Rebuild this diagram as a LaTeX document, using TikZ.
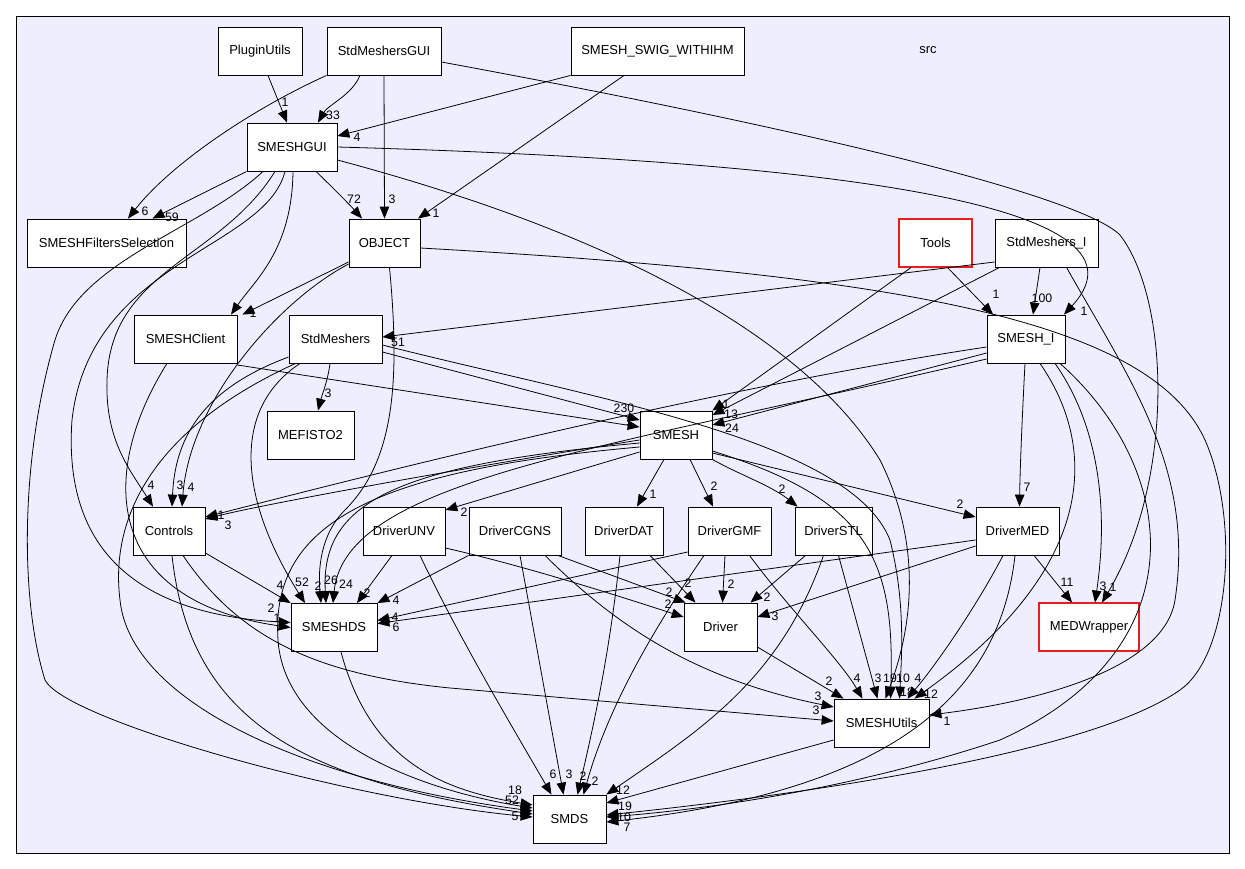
\documentclass[tikz,border=0pt]{standalone}
\usepackage{fontspec}
\setmainfont{Liberation Sans}
\usetikzlibrary{arrows.meta,calc}
\definecolor{dirbg}{RGB}{238,238,255}
\definecolor{hotred}{RGB}{232,30,30}
\newcommand{\dirfont}{\fontsize{7.4}{9}\selectfont}
\newcommand{\labfont}{\fontsize{7}{8}\selectfont}

\begin{document}
\begin{tikzpicture}[x=0.02cm,y=-0.02cm,
  dir/.style={draw=black,fill=white,minimum height=0.96cm,inner sep=0pt,line width=0.5pt,font=\dirfont},
  hot/.style={dir,draw=hotred,line width=0.6pt},
  dep/.style={-{Triangle[length=6.8pt,width=5.4pt]},line width=0.45pt},
  elab/.style={font=\labfont,inner sep=0pt}]
\useasboundingbox (0,0) rectangle (1245,869);
% the src directory frame
\draw[fill=dirbg,line width=0.5pt] (16,16) rectangle (1229,853);
\node[font=\dirfont] (srclabel) at (928,50) {src};

% directories
\node[dir,minimum width=1.68cm] (PluginUtils) at (260,51) {PluginUtils};
\node[dir,minimum width=2.28cm] (StdMeshersGUI) at (384,51) {StdMeshersGUI};
\node[dir,minimum width=3.46cm] (SWIG) at (657.5,51) {SMESH\_SWIG\_WITHIHM};
\node[dir,minimum width=1.8cm] (SMESHGUI) at (292,147) {SMESHGUI};
\node[dir,minimum width=3.18cm] (Filters) at (106.5,243) {SMESHFiltersSelection};
\node[dir,minimum width=1.42cm] (OBJECT) at (384.5,243) {OBJECT};
\node[hot,minimum width=1.46cm] (Tools) at (935.5,243) {Tools};
\node[dir,minimum width=2.06cm] (StdMeshersI) at (1046.5,243) {StdMeshers\_I};
\node[dir,minimum width=2.06cm] (SMESHClient) at (185.5,339) {SMESHClient};
\node[dir,minimum width=1.86cm] (StdMeshers) at (335.5,339) {StdMeshers};
\node[dir,minimum width=1.56cm] (SMESHI) at (1026,339) {SMESH\_I};
\node[dir,minimum width=1.74cm] (MEFISTO2) at (310.5,435) {MEFISTO2};
\node[dir,minimum width=1.44cm] (SMESH) at (676,435) {SMESH};
\node[dir,minimum width=1.44cm] (Controls) at (169,531) {Controls};
\node[dir,minimum width=1.64cm] (DriverUNV) at (404,531) {DriverUNV};
\node[dir,minimum width=1.84cm] (DriverCGNS) at (515,531) {DriverCGNS};
\node[dir,minimum width=1.56cm] (DriverDAT) at (624,531) {DriverDAT};
\node[dir,minimum width=1.66cm] (DriverGMF) at (729.5,531) {DriverGMF};
\node[dir,minimum width=1.54cm] (DriverSTL) at (833.5,531) {DriverSTL};
\node[dir,minimum width=1.66cm] (DriverMED) at (1017.5,531) {DriverMED};
\node[dir,minimum width=1.72cm] (SMESHDS) at (334,627.5) {SMESHDS};
\node[dir,minimum width=1.46cm] (Driver) at (720.5,627) {Driver};
\node[hot,minimum width=2cm] (MEDWrapper) at (1089,627) {MEDWrapper};
\node[dir,minimum width=1.9cm] (SMESHUtils) at (881.5,723) {SMESHUtils};
\node[dir,minimum width=1.46cm] (SMDS) at (569.5,819) {SMDS};

% top row
\draw[dep] ($(PluginUtils.south)+(8,0)$) -- ($(SMESHGUI.north)+(-5,0)$);
\draw[dep] ($(StdMeshersGUI.south)+(-24,0)$) .. controls (352,95) and (328,105) .. ($(SMESHGUI.north)+(26,0)$);
\draw[dep] (SWIG.south west) -- ($(SMESHGUI.east)+(0,-11)$);
\draw[dep] (StdMeshersGUI.south west) .. controls (250,110) and (170,165) .. ($(Filters.north)+(21.5,0)$);
\draw[dep] (StdMeshersGUI.south) -- (OBJECT.north);
\draw[dep] ($(SWIG.south)+(-33.5,0)$) -- ($(OBJECT.north)+(33.5,0)$);
\draw[dep] ($(StdMeshersGUI.east)+(0,11)$) .. controls (800,128) and (1080,195) .. (1120,235) .. controls (1170,300) and (1175,480) .. ($(MEDWrapper.north)+(13,0)$);

% SMESHGUI
\draw[dep] (SMESHGUI.south west) -- ($(Filters.north)+(46,0)$);
\draw[dep] ($(SMESHGUI.south)+(24,0)$) .. controls (330,185) and (350,205) .. ($(OBJECT.north)+(-22.5,0)$);
\draw[dep] (SMESHGUI.east) .. controls (800,160) and (1170,200) .. ($(SMESHI.north)+(38,0)$);
\draw[dep] ($(SMESHGUI.east)+(0,13)$) .. controls (600,230) and (800,330) .. (880,460) .. controls (920,540) and (915,620) .. ($(SMESHUtils.north)+(4,0)$);
\draw[dep] ($(SMESHGUI.south)+(1,0)$) .. controls (292,250) and (255,280) .. ($(SMESHClient.north)+(45.5,0)$);
\draw[dep] ($(SMESHGUI.south)+(-17,0)$) .. controls (220,260) and (110,270) .. (107,380) .. controls (105,440) and (130,470) .. ($(Controls.north)+(-16,0)$);
\draw[dep] ($(SMESHGUI.south)+(-7,0)$) .. controls (265,250) and (90,260) .. (72,420) .. controls (62,560) and (150,615) .. ($(SMESHDS.west)+(0,-5)$);
\draw[dep] ($(SMESHGUI.south)+(-29,0)$) .. controls (200,230) and (80,260) .. (55,340) .. controls (20,460) and (20,600) .. (45,680) .. controls (65,720) and (350,800) .. ($(SMDS.west)+(0,-2)$);

% OBJECT
\draw[dep] ($(OBJECT.west)+(0,19)$) -- ($(SMESHClient.north)+(57,0)$);
\draw[dep] ($(OBJECT.west)+(0,21)$) .. controls (280,300) and (190,400) .. ($(Controls.north)+(13,0)$);
\draw[dep] ($(OBJECT.south)+(5,0)$) .. controls (400,380) and (395,460) .. (345,510) .. controls (320,535) and (318,570) .. ($(SMESHDS.north)+(-13,0)$);
\draw[dep] ($(OBJECT.east)+(0,5)$) .. controls (900,275) and (1150,320) .. (1205,440) .. controls (1240,520) and (1230,655) .. (1180,690) .. controls (1080,760) and (750,800) .. ($(SMDS.east)+(0,-4)$);

% Tools, StdMeshers_I, SMESH_I
\draw[dep] ($(Tools.south)+(12,0)$) -- ($(SMESHI.north)+(-33,0)$);
\draw[dep] ($(Tools.south)+(-24.5,0)$) -- (SMESH.north east);
\draw[dep] ($(StdMeshersI.south)+(-6.5,0)$) -- ($(SMESHI.north)+(7,0)$);
\draw[dep] ($(StdMeshersI.south west)+(5,0)$) -- ($(SMESH.east)+(0,-20)$);
\draw[dep] ($(StdMeshersI.west)+(0,19)$) -- ($(StdMeshers.east)+(0,-2)$);
\draw[dep] ($(StdMeshersI.south)+(20,0)$) .. controls (1130,380) and (1195,470) .. (1175,600) .. controls (1165,665) and (1050,700) .. ($(SMESHUtils.east)+(0,-8)$);
\draw[dep] ($(SMESHI.west)+(0,14)$) -- ($(SMESH.east)+(0,-10)$);
\draw[dep] ($(SMESHI.west)+(0,8)$) .. controls (700,390) and (350,480) .. ($(Controls.east)+(0,-14)$);
\draw[dep] ($(SMESHI.west)+(0,20)$) .. controls (600,450) and (345,480) .. ($(SMESHDS.north)+(-1,0)$);
\draw[dep] ($(SMESHI.south)+(-1,0)$) .. controls (1022,420) and (1020,470) .. ($(DriverMED.north)+(2,0)$);
\draw[dep] ($(SMESHI.south)+(14,0)$) .. controls (1100,450) and (1095,570) .. ($(SMESHUtils.north)+(33,0)$);
\draw[dep] ($(SMESHI.south)+(29,0)$) .. controls (1095,420) and (1110,500) .. ($(MEDWrapper.north)+(6,0)$);
\draw[dep] ($(SMESHI.south)+(34,0)$) .. controls (1180,470) and (1200,650) .. (1000,740) .. controls (850,790) and (700,810) .. ($(SMDS.east)+(0,-2)$);

% SMESHClient, StdMeshers
\draw[dep] ($(SMESHClient.east)+(0,26)$) -- ($(SMESH.west)+(0,-8)$);
\draw[dep] ($(SMESHClient.south)+(-18.5,0)$) .. controls (100,470) and (100,600) .. (SMESHDS.west);
\draw[dep] ($(StdMeshers.south)+(-5.5,0)$) .. controls (328,380) and (322,395) .. ($(MEFISTO2.north)+(7.5,0)$);
\draw[dep] ($(StdMeshers.west)+(0,18)$) .. controls (200,390) and (175,440) .. ($(Controls.north)+(3,0)$);
\draw[dep] ($(StdMeshers.south)+(-35.5,0)$) .. controls (230,410) and (240,500) .. ($(SMESHDS.north)+(-29,0)$);
\draw[dep] ($(StdMeshers.south)+(-40,0)$) .. controls (150,430) and (110,520) .. (120,600) .. controls (130,700) and (300,780) .. ($(SMDS.west)+(0,-8)$);
\draw[dep] ($(StdMeshers.east)+(0,13)$) -- ($(SMESH.west)+(0,-15)$);
\draw[dep] ($(StdMeshers.east)+(0,6)$) .. controls (600,400) and (850,440) .. (890,540) .. controls (905,600) and (902,650) .. ($(SMESHUtils.north)+(18,0)$);

% SMESH
\draw[dep] ($(SMESH.west)+(0,5)$) .. controls (450,470) and (260,505) .. ($(Controls.east)+(0,-12)$);
\draw[dep] ($(SMESH.west)+(0,8)$) .. controls (400,465) and (320,500) .. ($(SMESHDS.north)+(-8,0)$);
\draw[dep] ($(SMESH.west)+(0,12)$) .. controls (380,470) and (270,520) .. (278,640) .. controls (285,740) and (420,790) .. ($(SMDS.west)+(0,-11)$);
\draw[dep] ($(SMESH.west)+(0,17)$) -- ($(DriverUNV.east)+(0,-21)$);
\draw[dep] ($(SMESH.south)+(-12,0)$) -- ($(DriverDAT.north)+(13,0)$);
\draw[dep] ($(SMESH.south)+(14,0)$) -- ($(DriverGMF.north)+(-16.5,0)$);
\draw[dep] (SMESH.south east) .. controls (740,475) and (770,485) .. ($(DriverSTL.north west)+(3,0)$);
\draw[dep] ($(SMESH.east)+(0,18)$) -- ($(DriverMED.west)+(0,-14)$);
\draw[dep] ($(SMESH.east)+(0,16)$) .. controls (870,500) and (895,560) .. ($(SMESHUtils.north)+(9,0)$);

% drivers
\draw[dep] ($(DriverUNV.east)+(0,17)$) .. controls (520,565) and (600,590) .. ($(Driver.west)+(0,-10)$);
\draw[dep] ($(DriverUNV.south)+(-12,0)$) -- ($(SMESHDS.north)+(23,0)$);
\draw[dep] ($(DriverUNV.south)+(16,0)$) .. controls (460,640) and (520,740) .. ($(SMDS.north)+(-18,0)$);
\draw[dep] ($(DriverCGNS.south)+(43,0)$) -- ($(Driver.north west)+(2,0)$);
\draw[dep] (DriverCGNS.south west) -- (SMESHDS.north east);
\draw[dep] ($(DriverCGNS.south)+(5,0)$) -- ($(SMDS.north)+(-6,0)$);
\draw[dep] ($(DriverCGNS.south)+(30,0)$) .. controls (620,630) and (700,680) .. ($(SMESHUtils.west)+(0,-16)$);
\draw[dep] ($(DriverDAT.south)+(26,0)$) -- ($(Driver.north)+(-25,0)$);
\draw[dep] ($(DriverDAT.south)+(-4,0)$) .. controls (610,650) and (595,720) .. ($(SMDS.north)+(8,0)$);
\draw[dep] ($(DriverGMF.west)+(0,21)$) -- ($(SMESHDS.east)+(0,-7)$);
\draw[dep] ($(DriverGMF.south)+(-4.5,0)$) -- ($(Driver.north)+(2,0)$);
\draw[dep] ($(DriverGMF.south)+(-25.5,0)$) .. controls (660,620) and (610,700) .. ($(SMDS.north)+(14,0)$);
\draw[dep] ($(DriverGMF.south)+(20,0)$) .. controls (790,610) and (840,660) .. ($(SMESHUtils.north)+(-19,0)$);
\draw[dep] ($(DriverSTL.south)+(-28,0)$) -- ($(Driver.north)+(30,0)$);
\draw[dep] ($(DriverSTL.south)+(5,0)$) -- ($(SMESHUtils.north)+(-4,0)$);
\draw[dep] ($(DriverSTL.south)+(-10,0)$) .. controls (780,680) and (700,730) .. (SMDS.north east);
\draw[dep] ($(DriverMED.west)+(0,9)$) -- ($(SMESHDS.east)+(0,-4)$);
\draw[dep] ($(DriverMED.west)+(0,15)$) -- ($(Driver.east)+(0,-10)$);
\draw[dep] ($(DriverMED.south)+(16.5,0)$) -- ($(MEDWrapper.north)+(-17,0)$);
\draw[dep] ($(DriverMED.south)+(-14.5,0)$) .. controls (980,600) and (940,660) .. ($(SMESHUtils.north)+(26,0)$);
\draw[dep] ($(DriverMED.south)+(-2.5,0)$) .. controls (1000,690) and (900,790) .. ($(SMDS.east)+(0,3)$);

% lower part
\draw[dep] ($(Controls.east)+(0,22)$) -- (SMESHDS.north west);
\draw[dep] ($(Controls.south)+(14,0)$) .. controls (240,640) and (320,675) .. (450,688) -- ($(SMESHUtils.west)+(0,-2)$);
\draw[dep] ($(Controls.south)+(3,0)$) .. controls (190,720) and (300,780) .. ($(SMDS.west)+(0,-5)$);
\draw[dep] ($(SMESHDS.south)+(7,0)$) .. controls (370,760) and (440,790) .. ($(SMDS.west)+(0,-14)$);
\draw[dep] ($(Driver.east)+(0,20)$) -- ($(SMESHUtils.north)+(-38,0)$);
\draw[dep] ($(SMESHUtils.west)+(0,17)$) -- ($(SMDS.east)+(0,-16)$);

% dependency counts
\foreach \t/\x/\y [count=\i] in {
  1/285/102, 33/333/115, 4/357/137, 6/145/211, 59/172/217, 72/354/199, 3/392/199, 1/436/213,
  1/253/313, 51/398/342, 3/328/393,
  1/996/294, 100/1042/298, 1/1084/311,
  230/624/408, 1/629/421, 1/726/404, 13/731/414, 24/732/428,
  4/151/485, 3/180/485, 4/191/487, 1/221/515, 3/228/525,
  2/464/512, 1/653/494, 2/714/486, 2/782/489, 2/960/504, 7/1027/487,
  11/1067/582, 3/1103/586, 1/1113/587,
  4/280/585, 52/302/582, 2/318/586, 26/331/580, 24/346/584, 2/367/593, 4/396/600,
  2/271/608, 1/277/618, 4/395/617, 6/396/627,
  2/688/583, 2/669/592, 2/668/604, 2/731/584, 2/767/597, 3/775/616,
  2/829/681, 4/857/678, 3/878/678, 19/890/678, 10/903/678, 18/907/692, 4/918/678, 12/931/694,
  3/818/696, 3/816/710, 1/947/721,
  6/553/774, 3/569/774, 2/583/776, 2/595/781, 12/623/790, 19/625/806, 10/624/817, 7/627/827,
  18/515/790, 52/512/800, 8/524/808, 5/515/816}
  \node[elab] (lab\i) at (\x,\y) {\t};
\end{tikzpicture}
\end{document}
